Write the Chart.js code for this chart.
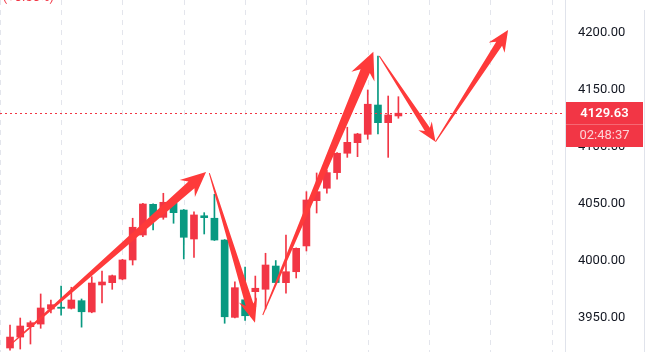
<!DOCTYPE html>
<html>
<head>
<meta charset="utf-8">
<script src="https://cdn.jsdelivr.net/npm/chart.js@4.4.1/dist/chart.umd.min.js"></script>
<style>
html,body{margin:0;padding:0;background:#fff;}
#wrap{width:647px;height:352px;}
</style>
</head>
<body>
<div id="wrap"><canvas id="price_chart" width="647" height="352"></canvas></div>
<script>
// candle values, one entry per bar (index = bar number)
var opens  = [3923.7,3933.3,3942.4,3944.7,3957.9,3959.5,3958.5,3965.2,3955.3,3979.0,
              3981.0,3984.2,4000.9,4022.8,4049.7,4038.3,4050.6,4044.7,4019.3,4039.7,
              4037.5,4018.4,3950.6,3966.0,3973.1,3975.2,3995.6,3981.0,3990.6,4013.2,
              4052.9,4063.8,4077.5,4094.5,4103.8,4111.1,4136.8,4121.3,4127.2];
var closes = [3933.3,3943.0,3945.9,3958.8,3961.7,3958.5,3965.8,3955.5,3980.7,3981.6,
              3987.1,4000.9,4029.6,4050.0,4038.9,4051.5,4042.4,4020.8,4040.4,4038.0,
              4018.4,3951.1,3976.6,3952.0,3976.1,3996.5,3981.1,3990.6,4011.1,4053.5,
              4060.8,4077.5,4094.5,4104.1,4111.4,4137.5,4121.3,4128.1,4129.63];
var highs  = [3943.9,3950.0,3947.4,3971.1,3965.8,3978.1,3977.0,3966.7,3986.2,3991.2,
              3987.7,4001.5,4037.5,4050.5,4050.2,4059.4,4051.0,4045.2,4043.2,4042.4,
              4058.5,4018.8,3981.8,3994.7,3986.8,4006.8,4000.4,4022.8,4011.5,4060.8,
              4077.2,4079.8,4095.0,4117.3,4112.0,4150.0,4179.8,4144.7,4144.1];
var lows   = [3921.9,3922.8,3927.2,3941.0,3954.4,3952.6,3957.9,3942.0,3954.6,3963.2,
              3975.2,3983.5,3996.5,4021.3,4027.2,4036.6,4033.1,4001.8,4003.2,4023.7,
              4018.0,3945.4,3950.0,3948.0,3959.9,3958.0,3980.7,3971.7,3985.1,4008.8,
              4042.1,4059.4,4071.7,4090.9,4091.5,4106.8,4111.4,4090.9,4125.2];

var priceTicks = [3950,4000,4050,4100,4150,4200];
var gridBars = [-1,5,11,17,23,29,35,41,47,53];
var lastPrice = 4129.63;
var countdown = '02:48:37';

// hand drawn arrows: [bar, price] tail -> tip
var arrowTails = [[0,3926.3],[19.5,4077.0],[24.73,3952.6],[36.13,4179.8],[41.63,4104.6]];
var arrowTips  = [[19.18,4078.1],[23.97,3945.9],[35.55,4183.6],[41.63,4104.6],[48.73,4202.6]];
var arrowStyle = [
  {shaft:9, headLen:25, headW:23},
  {shaft:8, headLen:24, headW:19},
  {shaft:10, headLen:27, headW:25},
  {shaft:6, headLen:19, headW:16},
  {shaft:7, headLen:21, headW:19}
];

var UP = '#f23645', DOWN = '#089981', ARROW = '#fe3a3a';

var bodies = [], wicks = [], colors = [];
for (var i = 0; i < opens.length; i++) {
  bodies.push({x: i, y: [opens[i], closes[i]]});
  wicks.push({x: i, y: [lows[i], highs[i]]});
  colors.push(closes[i] >= opens[i] ? UP : DOWN);
}

function drawArrow(ctx, x1, y1, x2, y2, st) {
  var dx = x2 - x1, dy = y2 - y1, len = Math.sqrt(dx*dx + dy*dy);
  var ux = dx/len, uy = dy/len, nx = -uy, ny = ux;
  var bx = x2 - ux*st.headLen, by = y2 - uy*st.headLen;
  var kx = x2 - ux*st.headLen*0.78, ky = y2 - uy*st.headLen*0.78;
  ctx.beginPath();
  ctx.moveTo(x1 + nx*0.5, y1 + ny*0.5);
  ctx.lineTo(kx + nx*st.shaft/2, ky + ny*st.shaft/2);
  ctx.lineTo(bx + nx*st.headW/2, by + ny*st.headW/2);
  ctx.lineTo(x2, y2);
  ctx.lineTo(bx - nx*st.headW/2, by - ny*st.headW/2);
  ctx.lineTo(kx - nx*st.shaft/2, ky - ny*st.shaft/2);
  ctx.lineTo(x1 - nx*0.5, y1 - ny*0.5);
  ctx.closePath();
  ctx.fill();
}

var overlay = {
  id: 'overlay',
  beforeDatasetsDraw: function(chart) {
    // vertical dashed grid on the bar scale
    var ctx = chart.ctx, xs = chart.scales.x, area = chart.chartArea;
    ctx.save();
    ctx.strokeStyle = '#e3e5ec';
    ctx.lineWidth = 1;
    ctx.setLineDash([5, 5]);
    gridBars.forEach(function(v){
      var gx = Math.round(xs.getPixelForValue(v)) + 0.5;
      ctx.beginPath();
      ctx.moveTo(gx, area.top);
      ctx.lineTo(gx, area.bottom);
      ctx.stroke();
    });
    ctx.restore();
  },
  afterDatasetsDraw: function(chart) {
    var ctx = chart.ctx, xs = chart.scales.x, ys = chart.scales.y, area = chart.chartArea;
    var py = Math.round(ys.getPixelForValue(lastPrice)) + 0.5;

    // last price dotted line
    ctx.save();
    ctx.strokeStyle = UP;
    ctx.lineWidth = 1;
    ctx.setLineDash([2, 3]);
    ctx.beginPath();
    ctx.moveTo(area.left, py);
    ctx.lineTo(area.right, py);
    ctx.stroke();
    ctx.restore();

    // arrows
    ctx.save();
    ctx.fillStyle = ARROW;
    for (var a = 0; a < arrowTails.length; a++) {
      drawArrow(ctx,
        xs.getPixelForValue(arrowTails[a][0]), ys.getPixelForValue(arrowTails[a][1]),
        xs.getPixelForValue(arrowTips[a][0]), ys.getPixelForValue(arrowTips[a][1]),
        arrowStyle[a]);
    }
    ctx.restore();

    // price + countdown label on the axis
    ctx.save();
    var left = ys.left + 1, w = ys.width - 5;
    ctx.fillStyle = UP;
    ctx.fillRect(left, py - 11.5, w, 45);
    ctx.fillStyle = 'rgba(255,255,255,0.25)';
    ctx.fillRect(left, py + 10.5, w, 1);
    ctx.textAlign = 'center';
    ctx.textBaseline = 'middle';
    ctx.fillStyle = '#ffffff';
    ctx.font = '600 13px Roboto';
    ctx.fillText(lastPrice.toFixed(2), left + w/2, py);
    ctx.fillStyle = 'rgba(255,255,255,0.78)';
    ctx.font = '13px Roboto';
    ctx.fillText(countdown, left + w/2, py + 22.5);
    ctx.restore();

    // right border and clipped change text at top
    ctx.save();
    ctx.fillStyle = '#e0e3eb';
    ctx.fillRect(chart.width - 3, 10, 1, chart.height - 10);
    ctx.fillStyle = UP;
    ctx.font = '13px Roboto';
    ctx.textAlign = 'right';
    ctx.textBaseline = 'alphabetic';
    ctx.fillText('(+0.50%)', 54, 1);
    ctx.restore();
  }
};

var ctx = document.getElementById('price_chart');
var myChart = new Chart(ctx, {
  type: 'bar',
  data: {
    datasets: [
      {label: 'body', data: bodies, backgroundColor: colors, borderWidth: 0,
       barThickness: 7, minBarLength: 1, grouped: false, order: 0},
      {label: 'wick', data: wicks, backgroundColor: colors, borderWidth: 0,
       barThickness: 1, grouped: false, order: 1}
    ]
  },
  options: {
    responsive: false,
    animation: false,
    layout: {padding: 0, autoPadding: false},
    plugins: {legend: {display: false}, tooltip: {enabled: false}},
    scales: {
      x: {
        type: 'linear', display: false, min: -0.98, max: 54.3, offset: false
      },
      y: {
        position: 'right', min: 3920.2, max: 4228.9,
        grid: {display: false, drawTicks: false},
        border: {display: true, color: '#e0e3eb'},
        ticks: {padding: 13, color: '#131722', font: {family: 'Roboto', size: 13},
                callback: function(v){ return v.toFixed(2); }},
        afterBuildTicks: function(s){ s.ticks = priceTicks.map(function(v){ return {value: v}; }); },
        afterFit: function(s){ s.width = 82; s.paddingTop = 0; s.paddingBottom = 0; }
      }
    }
  },
  plugins: [overlay]
});
</script>
</body>
</html>
